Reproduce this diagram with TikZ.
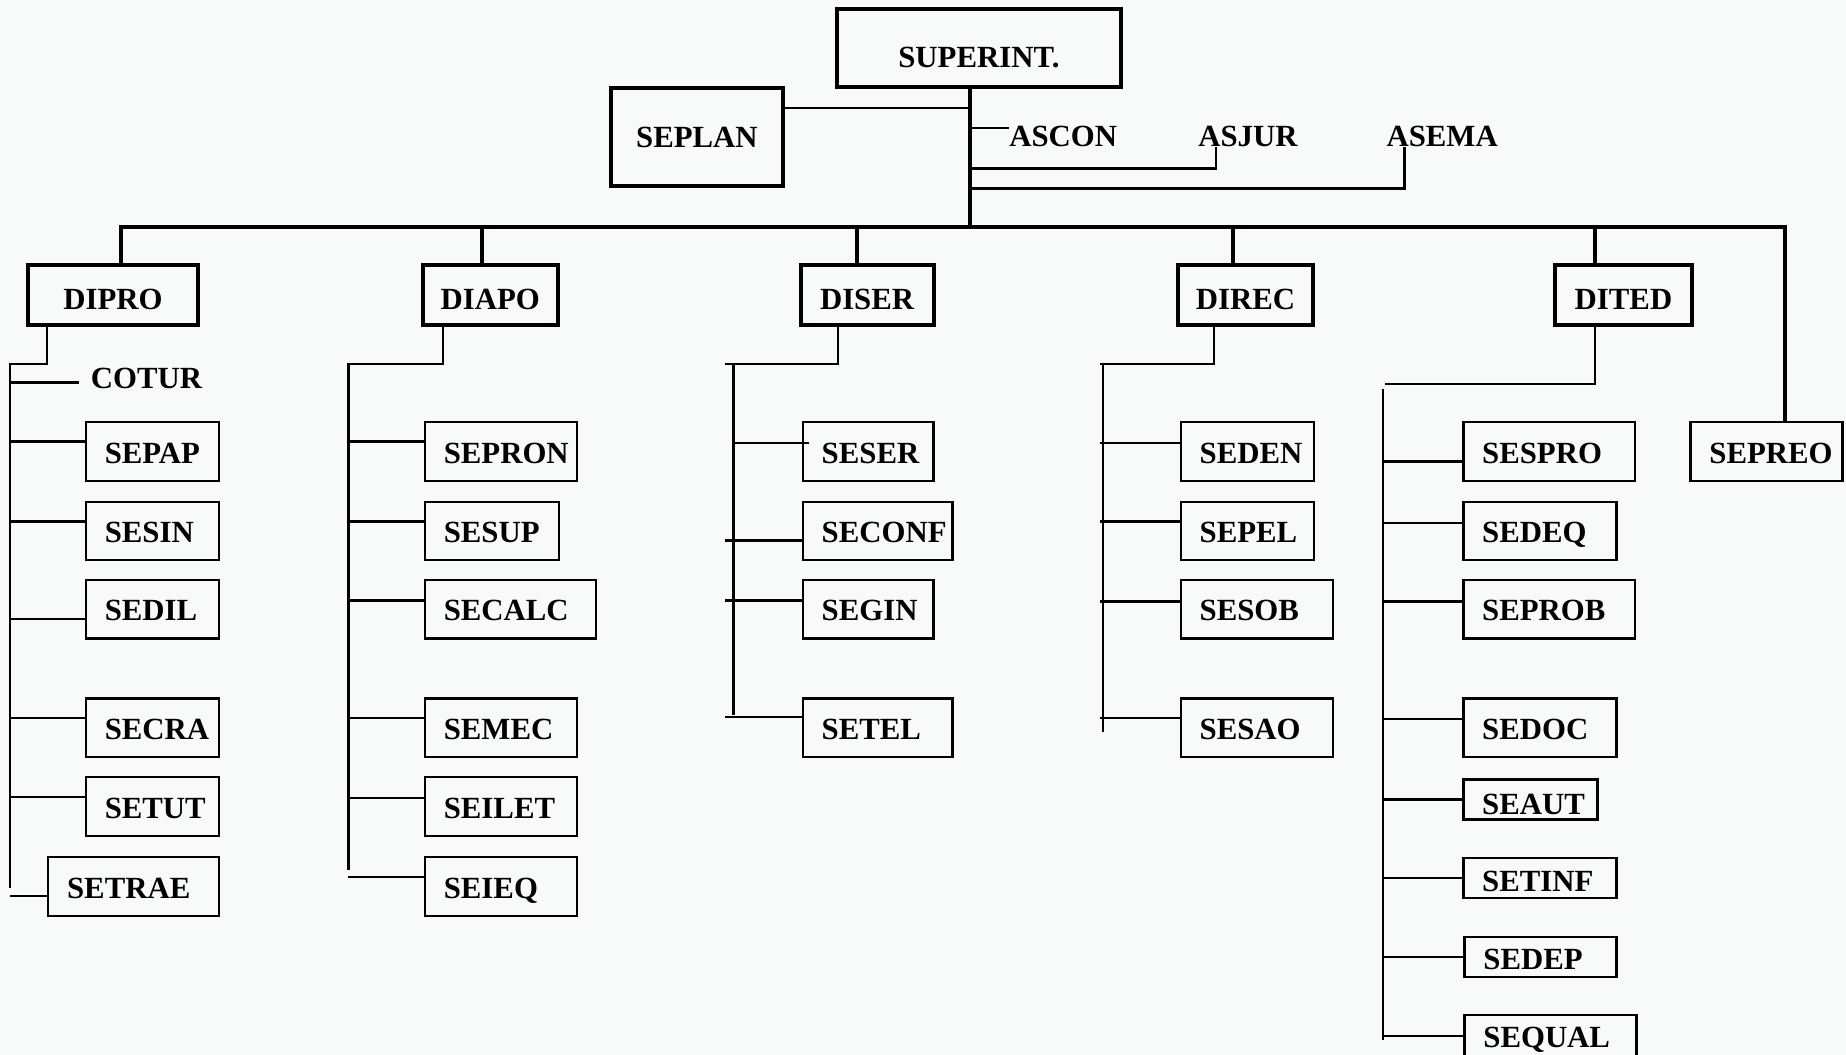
\documentclass[tikz,border=0pt]{standalone}
\usepackage{fontspec}
\setmainfont{Liberation Serif}
\newlength\pxu
\setlength\pxu{0.025cm}
\definecolor{bgcol}{HTML}{F8FAF9}
\tikzset{
  lbl/.style={font=\fontsize{18.6pt}{20pt}\selectfont\bfseries, inner sep=0pt, text height=14pt, text depth=0pt},
  topbox/.style={lbl, draw, line width=2.4pt},
  dirbox/.style={lbl, draw, line width=2.4pt, minimum height=1.275cm, text height=18pt},
  subbox/.style={lbl, draw, line width=1.4pt, inner xsep=0.4cm, anchor=west},
  txtlbl/.style={lbl, text height=12.4pt},
  thickln/.style={line width=2.4pt},
  thinln/.style={line width=1.4pt},
}
\newcommand\sbx[7][]{\node[subbox, minimum height=#6cm, #1] (#2) at (#3,#4) {\makebox[\dimexpr#5\pxu-32\pxu\relax][l]{#7}};}
\begin{document}
\begin{tikzpicture}[x=0.025cm, y=-0.025cm]
\useasboundingbox (0,0) rectangle (1568,896);
\fill[bgcol] (0,0) rectangle (1568,896);

% top level
\node[topbox, minimum height=1.65cm, text height=23.6pt] (sup) at (831.5,41) {\makebox[241\pxu]{SUPERINT.}};
\node[topbox, minimum height=2.075cm, text height=12.4pt] (seplan) at (592,116.5) {\makebox[146\pxu]{SEPLAN}};
\node[txtlbl, anchor=west] (ascon) at (857,116) {ASCON};
\node[txtlbl] (asjur) at (1060,116) {ASJUR};
\node[txtlbl] (asema) at (1225,116) {ASEMA};

% directorates
\node[dirbox] (dipro) at (96,250.5) {\makebox[144\pxu]{DIPRO}};
\node[dirbox] (diapo) at (416.5,250.5) {\makebox[115\pxu]{DIAPO}};
\node[dirbox] (diser) at (736.5,250.5) {\makebox[113\pxu]{DISER}};
\node[dirbox] (direc) at (1058,250.5) {\makebox[114\pxu]{DIREC}};
\node[dirbox] (dited) at (1379,250.5) {\makebox[116\pxu]{DITED}};

% DIPRO column
\node[txtlbl, anchor=west, inner xsep=0.25cm] (cotur) at (67,321) {COTUR};
\sbx{sepap}{72}{383.5}{113}{1.24}{SEPAP}
\sbx{sesin}{72}{451}{113}{1.24}{SESIN}
\sbx{sedil}{72}{517.5}{113}{1.24}{SEDIL}
\sbx{secra}{72}{618}{113}{1.24}{SECRA}
\sbx{setut}{72}{685}{113}{1.24}{SETUT}
\sbx{setrae}{40}{753}{145}{1.24}{SETRAE}

% DIAPO column
\sbx{sepron}{360}{383.5}{129}{1.24}{SEPRON}
\sbx{sesup}{360}{451}{114}{1.24}{SESUP}
\sbx{secalc}{360}{517.5}{145}{1.24}{SECALC}
\sbx{semec}{360}{618}{129}{1.24}{SEMEC}
\sbx{seilet}{360}{685}{129}{1.24}{SEILET}
\sbx{seieq}{360}{753}{129}{1.24}{SEIEQ}

% DISER column
\sbx{seser}{681}{383.5}{111}{1.24}{SESER}
\sbx{seconf}{681}{451}{127}{1.24}{SECONF}
\sbx{segin}{681}{517.5}{111}{1.24}{SEGIN}
\sbx{setel}{681}{618}{127}{1.24}{SETEL}

% DIREC column
\sbx{seden}{1002}{383.5}{113}{1.24}{SEDEN}
\sbx{sepel}{1002}{451}{113}{1.24}{SEPEL}
\sbx{sesob}{1002}{517.5}{129}{1.24}{SESOB}
\sbx{sesao}{1002}{618}{129}{1.24}{SESAO}

% DITED column
\sbx{sespro}{1242}{383.5}{146}{1.24}{SESPRO}
\sbx{sedeq}{1242}{451}{130}{1.24}{SEDEQ}
\sbx{seprob}{1242}{517.5}{146}{1.24}{SEPROB}
\sbx{sedoc}{1242}{618}{130}{1.24}{SEDOC}
\sbx[text height=18pt]{seaut}{1242}{679}{114}{0.85}{SEAUT}
\sbx[text height=16pt]{setinf}{1242}{746}{130}{0.85}{SETINF}
\sbx[text height=15pt]{sedep}{1243}{813}{129}{0.85}{SEDEP}
\sbx[text height=12.4pt]{sequal}{1243}{881}{146}{0.95}{SEQUAL}

% SEPREO
\sbx{sepreo}{1435}{383.5}{129}{1.24}{SEPREO}

% ---- connectors, top
\coordinate (bus) at (824,192.5);
\draw[thickln] (sup.south -| bus) -- (bus);
\coordinate (k1) at (824,92);
\draw[thinln] (seplan.east |- k1) -- (k1);
\coordinate (k2) at (824,109);
\draw[thinln] (k2) -- (ascon.west |- k2);
\coordinate (k3) at (824,143);
\coordinate (j3) at (1033,0);
\draw[thinln] (k3) -| (asjur.south -| j3);
\coordinate (k4) at (824,160);
\coordinate (j4) at (1193,0);
\draw[thinln] (k4) -| (asema.south -| j4);

% bus and drops
\coordinate (dp1) at (103,192.5);
\coordinate (dp2) at (409,192.5);
\coordinate (dp3) at (728,192.5);
\coordinate (dp4) at (1047,192.5);
\coordinate (dp5) at (1355,192.5);
\coordinate (dp6) at (1516,192.5);
\draw[thickln] (dipro.north -| dp1) -- (dp1) -- (dp6) -- (sepreo.north -| dp6);
\draw[thickln] (dp2) -- (diapo.north -| dp2);
\draw[thickln] (dp3) -- (diser.north -| dp3);
\draw[thickln] (dp4) -- (direc.north -| dp4);
\draw[thickln] (dp5) -- (dited.north -| dp5);

% DIPRO spine
\coordinate (a1) at (40,309);
\coordinate (a1s) at (8.4,309);
\coordinate (a1b) at (8.4,754);
\draw[thinln] (dipro.south -| a1) -- (a1) -- (a1s) -- (a1b);
\draw[thinln] (a1b |- 0,325) -- (cotur.west |- 0,325);
\draw[thinln] (a1b |- 0,375) -- (sepap.west |- 0,375);
\draw[thinln] (a1b |- 0,443) -- (sesin.west |- 0,443);
\draw[thinln] (a1b |- 0,526) -- (sedil.west |- 0,526);
\draw[thinln] (a1b |- 0,610) -- (secra.west |- 0,610);
\draw[thinln] (a1b |- 0,677) -- (setut.west |- 0,677);
\draw[thinln] (a1b |- 0,761) -- (setrae.west |- 0,761);

% DIAPO spine
\coordinate (a2) at (376,309);
\coordinate (a2s) at (296,309);
\coordinate (a2b) at (296,739);
\draw[thinln] (diapo.south -| a2) -- (a2) -- (a2s) -- (a2b);
\draw[thinln] (a2b |- 0,375) -- (sepron.west |- 0,375);
\draw[thinln] (a2b |- 0,443) -- (sesup.west |- 0,443);
\draw[thinln] (a2b |- 0,510) -- (secalc.west |- 0,510);
\draw[thinln] (a2b |- 0,610) -- (semec.west |- 0,610);
\draw[thinln] (a2b |- 0,678) -- (seilet.west |- 0,678);
\draw[thinln] (a2b |- 0,745) -- (seieq.west |- 0,745);

% DISER spine
\coordinate (a3) at (712,309);
\coordinate (a3h) at (616,309);
\coordinate (a3s) at (623,309);
\coordinate (a3b) at (623,607);
\draw[thinln] (diser.south -| a3) -- (a3) -- (a3h);
\draw[thinln] (a3s) -- (a3b);
\draw[thinln] (a3s |- 0,376) -- ([xshift=0.15cm]seser.west |- 0,376);
\draw[thinln] (a3h |- 0,459) -- (seconf.west |- 0,459);
\draw[thinln] (a3h |- 0,510) -- (segin.west |- 0,510);
\draw[thinln] (a3h |- 0,609) -- (setel.west |- 0,609);

% DIREC spine
\coordinate (a4) at (1031,309);
\coordinate (a4h) at (934,309);
\coordinate (a4s) at (937,309);
\coordinate (a4b) at (937,622);
\draw[thinln] (direc.south -| a4) -- (a4) -- (a4h);
\draw[thinln] (a4s) -- (a4b);
\draw[thinln] (a4h |- 0,376) -- (seden.west |- 0,376);
\draw[thinln] (a4h |- 0,443) -- (sepel.west |- 0,443);
\draw[thinln] (a4h |- 0,511) -- (sesob.west |- 0,511);
\draw[thinln] (a4h |- 0,610) -- (sesao.west |- 0,610);

% DITED spine
\coordinate (a5) at (1355,326);
\coordinate (a5h) at (1176,326);
\coordinate (a5s) at (1175,330);
\coordinate (a5b) at (1175,883.5);
\draw[thinln] (dited.south -| a5) -- (a5) -- (a5h);
\draw[thinln] (a5s) -- (a5b);
\draw[thinln] (a5s |- 0,392) -- (sespro.west |- 0,392);
\draw[thinln] (a5s |- 0,444) -- (sedeq.west |- 0,444);
\draw[thinln] (a5s |- 0,511) -- (seprob.west |- 0,511);
\draw[thinln] (a5s |- 0,611) -- (sedoc.west |- 0,611);
\draw[thinln] (a5s |- 0,679) -- (seaut.west |- 0,679);
\draw[thinln] (a5s |- 0,746) -- (setinf.west |- 0,746);
\draw[thinln] (a5s |- 0,813) -- (sedep.west |- 0,813);
\draw[thinln] (a5s |- 0,880) -- (sequal.west |- 0,880);
\end{tikzpicture}
\end{document}
